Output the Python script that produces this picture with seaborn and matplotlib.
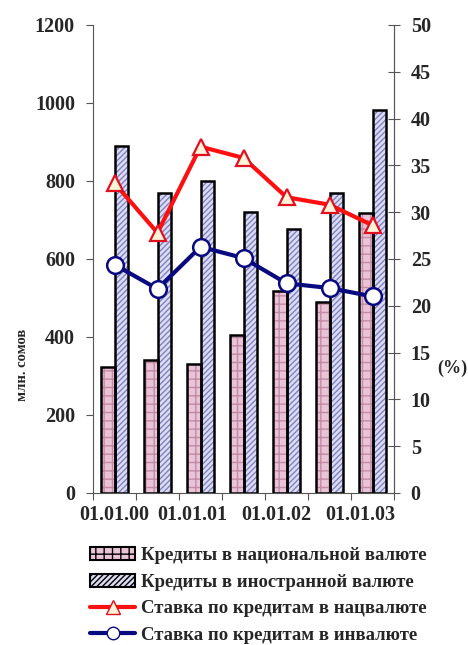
import numpy as np
import pandas as pd
import matplotlib
matplotlib.use("Agg")
import matplotlib.pyplot as plt
import seaborn as sns
from matplotlib.patches import Patch
from matplotlib.lines import Line2D

# ---- data ----
dates = ["01.01.00", "01.07.00", "01.01.01", "01.07.01", "01.01.02", "01.07.02", "01.01.03"]
tick_labels = ["01.01.00", "01.01.01", "01.01.02", "01.01.03"]
credit_national = [324, 341, 331, 406, 518, 491, 717]
credit_foreign = [889, 770, 800, 721, 676, 770, 983]
rate_national = [33.1, 27.8, 37.0, 35.8, 31.6, 30.8, 28.6]
rate_foreign = [24.4, 21.8, 26.3, 25.1, 22.4, 21.9, 21.0]
series_names = ["Кредиты в национальной валюте", "Кредиты в иностранной валюте"]
line_names = ["Ставка по кредитам в нацвалюте", "Ставка по кредитам в инвалюте"]

df = pd.DataFrame({
    "date": dates * 2,
    "value": credit_national + credit_foreign,
    "series": [series_names[0]] * len(dates) + [series_names[1]] * len(dates),
})

sns.set_theme(style="white")
plt.rcParams["font.family"] = ["Liberation Serif", "DejaVu Serif"]
plt.rcParams["font.weight"] = "bold"
plt.rcParams["hatch.linewidth"] = 1.0

fig = plt.figure(figsize=(4.68, 6.45), dpi=100)
ax = fig.add_axes([93 / 468, 1 - 493 / 645, (394 - 93) / 468, (493 - 25) / 645])

face = {series_names[0]: "#eac4d6", series_names[1]: "#dcdcf2"}
hatchcol = {series_names[0]: "#c28aa4", series_names[1]: "#7f82c4"}
hatches = {series_names[0]: "++", series_names[1]: "//////"}

# hatched fill
sns.barplot(data=df, x="date", y="value", hue="series", order=dates,
            hue_order=series_names, width=0.62, ax=ax, legend=False,
            palette=face, linewidth=0, saturation=1)
n = len(dates)
for i, p in enumerate(ax.patches[:2 * n]):
    s = series_names[i // n]
    p.set_hatch(hatches[s])
    p.set_edgecolor(hatchcol[s])
    p.set_linewidth(0)
# black outlines
sns.barplot(data=df, x="date", y="value", hue="series", order=dates,
            hue_order=series_names, width=0.62, ax=ax, legend=False,
            fill=False, color="black", linewidth=1.8, saturation=1)
for p in ax.patches[2 * n:]:
    p.set_edgecolor("black")
    p.set_facecolor("none")
    p.set_linewidth(1.8)

ax.set_xlim(-0.5, 6.5)
ax.set_ylim(0, 1200)
ax.set_yticks(np.arange(0, 1201, 200))
ax.set_xlabel("")
ax.set_ylabel("")
ax.set_xticks([0.0, 1.81, 3.76, 5.72])
ax.set_xticklabels(tick_labels)
ax.set_xticks(np.arange(-0.5, 7.0, 1.0), minor=True)
ax.tick_params(axis="x", which="major", length=0, labelsize=14.5, pad=9)
ax.tick_params(axis="x", which="minor", length=5, width=0.8, color="#555555", direction="out", bottom=True)
ax.tick_params(axis="y", length=5, width=0.8, color="#555555", direction="out", left=True, labelsize=14.5, pad=8)
for lab in ax.get_xticklabels() + ax.get_yticklabels():
    lab.set_fontweight("bold")
for side in ["left", "bottom", "right"]:
    ax.spines[side].set_visible(True)
    ax.spines[side].set_color("#555555")
    ax.spines[side].set_linewidth(0.8)
ax.spines["top"].set_visible(False)

fig.text(22 / 468, 1 - 365 / 645, "млн. сомов", rotation=90, ha="center", va="center",
         fontsize=10.5, fontweight="bold")

ax2 = ax.twinx()
x = np.arange(len(dates))
sns.lineplot(x=x, y=rate_national, ax=ax2, color="#ff1010", linewidth=3,
             marker="^", markersize=12, markerfacecolor="#fff3d8",
             markeredgecolor="#e01020", markeredgewidth=1.6)
sns.lineplot(x=x, y=rate_foreign, ax=ax2, color="#0a0a80", linewidth=3,
             marker="o", markersize=12, markerfacecolor="white",
             markeredgecolor="#0a0a80", markeredgewidth=1.8)
ax2.set_ylim(0, 50)
ax2.set_yticks(np.arange(0, 51, 5))
ax2.tick_params(axis="y", length=8, width=0.8, color="#555555", direction="inout", right=True, labelsize=14.5, pad=8)
for lab in ax2.get_yticklabels():
    lab.set_fontweight("bold")
for side in ["left", "bottom", "top"]:
    ax2.spines[side].set_visible(False)
ax2.spines["right"].set_color("#555555")
ax2.spines["right"].set_linewidth(0.8)
ax2.set_xlim(-0.5, 6.5)
fig.text(452 / 468, 1 - 368 / 645, "(%)", ha="center", va="center",
         fontsize=13, fontweight="bold")

handles = [
    Patch(facecolor=face[series_names[0]], edgecolor="black", hatch=hatches[series_names[0]], linewidth=1.5),
    Patch(facecolor=face[series_names[1]], edgecolor="black", hatch=hatches[series_names[1]], linewidth=1.5),
    Line2D([], [], color="#ff1010", lw=3, marker="^", markersize=10,
           markerfacecolor="#fff3d8", markeredgecolor="#e01020"),
    Line2D([], [], color="#0a0a80", lw=3, marker="o", markersize=9,
           markerfacecolor="white", markeredgecolor="#0a0a80"),
]
leg = fig.legend(handles, series_names + line_names, loc="upper left",
                 bbox_to_anchor=(90 / 468, 1 - 547 / 645), frameon=False,
                 prop={"weight": "bold", "size": 13.5}, handlelength=2.4,
                 handleheight=0.7, handletextpad=0.3, labelspacing=0.5,
                 borderaxespad=0, borderpad=0)

fig.savefig("out.png", dpi=100)
